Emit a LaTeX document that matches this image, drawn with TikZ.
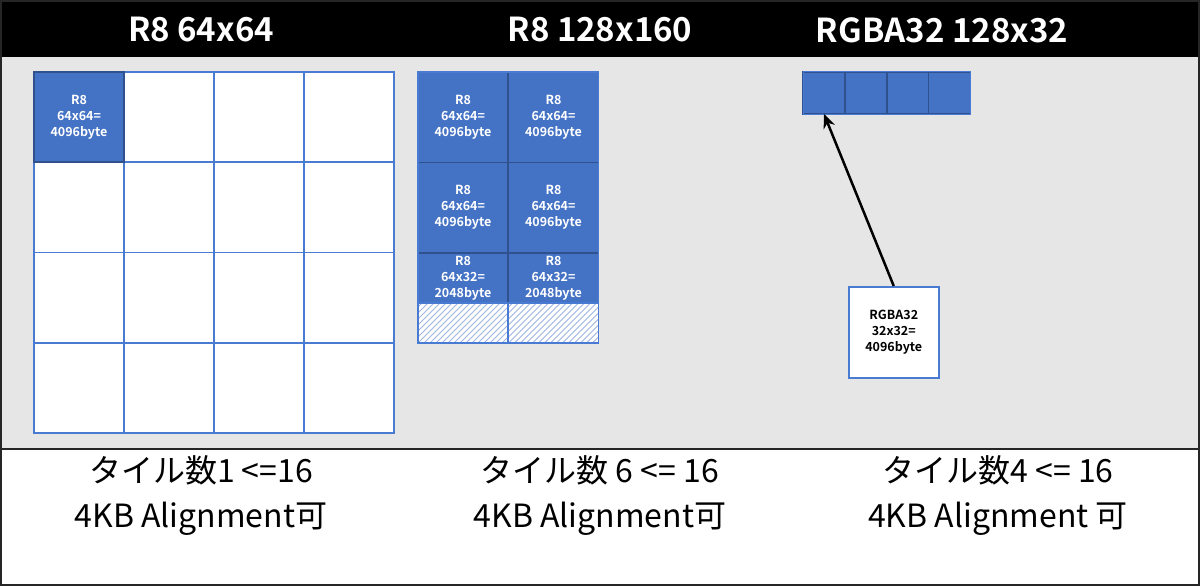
\documentclass[tikz,border=0pt]{standalone}
\usepackage{fontspec}
\setmainfont{Noto Sans CJK JP}[BoldFont={Noto Sans CJK JP Bold}]
\usetikzlibrary{arrows.meta}
\definecolor{tblue}{HTML}{4472C4}
\definecolor{tdark}{HTML}{2F528F}
\definecolor{tline}{HTML}{4A7BD2}
\definecolor{tgray}{HTML}{E7E6E6}
\definecolor{thatch}{HTML}{9DB5E3}
\begin{document}
\begin{tikzpicture}[x=1pt,y=-1pt,
  cellw/.style={draw=tline,line width=1.5pt,fill=white,anchor=north west,inner sep=0pt,outer sep=0pt,minimum width=90pt,minimum height=#1},
  cellb/.style={draw=tdark,line width=1.5pt,fill=tblue,anchor=north west,inner sep=0pt,outer sep=0pt,minimum width=90pt,minimum height=#1,
     text=white,align=center,font=\bfseries\fontsize{12.5}{16}\selectfont},
  smallb/.style={draw=tdark,line width=1.5pt,fill=tblue,anchor=north west,inner sep=0pt,outer sep=0pt,minimum width=42pt,minimum height=42pt},
  title/.style={text=white,font=\bfseries\fontsize{33}{36}\selectfont},
  caption/.style={align=center,font=\fontsize{32}{45}\selectfont},
  hatchline/.style={draw=thatch,line width=0.9pt}
]
\useasboundingbox (0,0) rectangle (1200,586);
% backgrounds
\fill[black] (0,0) rectangle (1200,57);
\fill[tgray] (0,57) rectangle (1200,449);
\fill[white] (0,449) rectangle (1200,586);
\draw[line width=2pt,black!85] (0,449) -- (1200,449);
\draw[line width=2pt,black!85] (1,1) rectangle (1199,585);
% titles
\node[title] (t1) at (201,30) {R8 64x64};
\node[title] (t2) at (600,30) {R8 128x160};
\node[title] (t3) at (942,30) {RGBA32 128x32};
% grid 1
\foreach \i in {0,1,2,3}{
  \foreach \j in {0,1,2,3}{
    \node[cellw=90pt] (g1-\i-\j) at (34+90*\i,72+90.25*\j) {};
  }
}
\node[cellb=90pt] (g1a) at (34,72) {R8\\64x64=\\4096byte};
% grid 2
\node[cellb=90.5pt] (g2a) at (418,72) {R8\\64x64=\\4096byte};
\node[cellb=90.5pt] (g2b) at (508.5,72) {R8\\64x64=\\4096byte};
\node[cellb=90.5pt] (g2c) at (418,162.5) {R8\\64x64=\\4096byte};
\node[cellb=90.5pt] (g2d) at (508.5,162.5) {R8\\64x64=\\4096byte};
\node[cellb=50pt] (g2e) at (418,253) {R8\\64x32=\\2048byte};
\node[cellb=50pt] (g2f) at (508.5,253) {R8\\64x32=\\2048byte};
\node[cellw=40pt] (g2g) at (418,303) {};
\node[cellw=40pt] (g2h) at (508.5,303) {};
\foreach \c in {g2g,g2h}{
  \begin{scope}
    \clip (\c.north west) rectangle (\c.south east);
    \foreach \k in {-42,-36,...,96}{
      \draw[hatchline] ([xshift=\k pt]\c.south west) -- ++(44,-44);
    }
  \end{scope}
  \draw[tline,line width=1.5pt] (\c.north west) rectangle (\c.south east);
}
\draw[tline,line width=1.5pt] (g2a.north west) rectangle (g2h.south east);
% grid 3
\node[smallb] (g3a) at (803,72) {};
\node[smallb] (g3b) at (845,72) {};
\node[smallb] (g3c) at (887,72) {};
\node[smallb] (g3d) at (928.5,72) {};
\draw[tline,line width=1pt] (g3a.north west) rectangle (g3d.south east);
% RGBA32 box
\node[draw=tline,line width=1.5pt,fill=white,anchor=north west,inner sep=0pt,minimum width=90pt,minimum height=91pt,
  align=center,font=\bfseries\fontsize{12.5}{16}\selectfont] (rgba) at (848,286) {RGBA32\\32x32=\\4096byte};
\draw[line width=2.5pt,-{Stealth[length=14pt,width=12pt]}] (rgba.north) -- (g3a.south);
% captions
\node[caption] (c1) at (201,496) {タイル数1 <=16\\4KB Alignment可};
\node[caption] (c2) at (600,496) {タイル数 6 <= 16\\4KB Alignment可};
\node[caption] (c3) at (998,496) {タイル数4 <= 16\\4KB Alignment 可};
\end{tikzpicture}
\end{document}
